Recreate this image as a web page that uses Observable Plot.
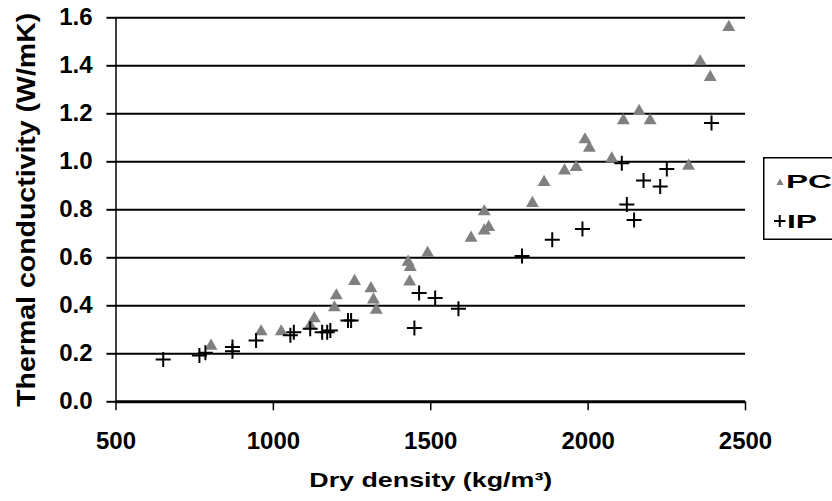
<!DOCTYPE html>
<html>
<head>
<meta charset="utf-8">
<script src="https://cdn.jsdelivr.net/npm/d3@7"></script>
<script src="https://cdn.jsdelivr.net/npm/@observablehq/plot@0.6"></script>
<style>
  body { margin: 0; background: #fff; }
  #wrap { position: relative; width: 832px; height: 501px; overflow: hidden; background: #fff; }
  #legend { position: absolute; left: 763px; top: 157px; overflow: visible; }
  g[aria-label="x-axis tick label"] text,
  g[aria-label="y-axis tick label"] text {
    font-family: "Liberation Sans", Arial, sans-serif; font-weight: bold; font-size: 24px; fill: #000;
    font-variant: normal;
  }
  g[aria-label="x-axis label"] text { font-family: "Liberation Sans", Arial, sans-serif; font-weight: bold; font-size: 21px; fill: #000; }
  g[aria-label="y-axis label"] text { font-family: "Liberation Sans", Arial, sans-serif; font-weight: bold; font-size: 25px; fill: #000; }
</style>
</head>
<body>
<div id="wrap"></div>
<script>
// ---- data ----
const seriesNames = ["PC", "IP"];
const xTitle = "Dry density (kg/m³)";
const yTitle = "Thermal conductivity (W/mK)";
const xTicks = [500, 1000, 1500, 2000, 2500];
const yTicks = [0.0, 0.2, 0.4, 0.6, 0.8, 1.0, 1.2, 1.4, 1.6];

const pcDensity = [802, 961, 1025, 1117, 1130, 1194, 1200, 1258, 1310, 1318, 1327, 1428, 1435, 1433, 1490, 1628, 1670, 1684, 1670, 1823, 1860, 1925, 1962, 1990, 2004, 2075, 2112, 2162, 2197, 2319, 2356, 2388, 2447];
const pcConductivity = [0.24, 0.30, 0.30, 0.325, 0.355, 0.40, 0.45, 0.51, 0.48, 0.433, 0.39, 0.59, 0.568, 0.508, 0.627, 0.69, 0.72, 0.735, 0.80, 0.835, 0.922, 0.97, 0.985, 1.10, 1.065, 1.02, 1.18, 1.218, 1.18, 0.99, 1.425, 1.36, 1.568];

const ipDensity = [650, 765, 784, 870, 870, 945, 1054, 1065, 1117, 1155, 1171, 1181, 1237, 1247, 1448, 1463, 1514, 1588, 1790, 1886, 1982, 2107, 2123, 2146, 2176, 2229, 2250, 2392];
const ipConductivity = [0.176, 0.193, 0.204, 0.228, 0.211, 0.255, 0.277, 0.29, 0.304, 0.29, 0.29, 0.297, 0.339, 0.339, 0.308, 0.453, 0.433, 0.388, 0.607, 0.675, 0.72, 0.994, 0.822, 0.758, 0.922, 0.897, 0.97, 1.162];

const pcData = pcDensity.map((x, i) => ({x, y: pcConductivity[i], series: seriesNames[0]}));
const ipData = ipDensity.map((x, i) => ({x, y: ipConductivity[i], series: seriesNames[1]}));

// thin "+" marker (Excel-style)
const plusLine = {
  draw(ctx, size) {
    const r = Math.sqrt(size / Math.PI);
    ctx.moveTo(-r, 0); ctx.lineTo(r, 0);
    ctx.moveTo(0, -r); ctx.lineTo(0, r);
  }
};

const chart = Plot.plot({
  width: 832,
  height: 501,
  marginLeft: 115.5,
  marginRight: 87,
  marginTop: 17.3,
  marginBottom: 99.7,
  style: {background: "#fff"},
  x: {domain: [500, 2500]},
  y: {domain: [0, 1.6]},
  marks: [
    Plot.ruleY(yTicks.filter(d => d > 0), {stroke: "#000", strokeWidth: 2}),
    Plot.axisX({
      ticks: xTicks, tickSize: 9, tickPadding: 21, stroke: "#000", strokeWidth: 1.5,
      tickFormat: d3.format("d"),
      label: xTitle, labelAnchor: "center", labelOffset: 85.5, labelArrow: "none"
    }),
    Plot.axisY({
      ticks: yTicks, tickSize: 9, tickPadding: 14.5, stroke: "#000", strokeWidth: 2,
      tickFormat: d3.format(".1f"),
      label: yTitle, labelAnchor: "center", labelOffset: 99, labelArrow: "none"
    }),
    Plot.ruleX([500], {stroke: "#000", strokeWidth: 1.5}),
    Plot.ruleY([0], {stroke: "#000", strokeWidth: 3}),
    Plot.dot(pcData, {x: "x", y: "y", symbol: "triangle", r: 4.8, fill: "#808080", stroke: "none", dy: 1.8}),
    Plot.dot(ipData, {x: "x", y: "y", symbol: plusLine, r: 7.5, fill: "none", stroke: "#000", strokeWidth: 2})
  ]
});

const wrap = document.getElementById("wrap");
wrap.appendChild(chart);

// stretch the axis titles horizontally like the reference's wide lettering
const xl = chart.querySelector('g[aria-label="x-axis label"] text');
if (xl) { xl.setAttribute("textLength", 243); xl.setAttribute("lengthAdjust", "spacingAndGlyphs"); }
const yl = chart.querySelector('g[aria-label="y-axis label"] text');
if (yl) { yl.setAttribute("textLength", 394); yl.setAttribute("lengthAdjust", "spacingAndGlyphs"); }

// legend (right side, boxed)
const ns = "http://www.w3.org/2000/svg";
const lg = document.createElementNS(ns, "svg");
lg.setAttribute("id", "legend");
lg.setAttribute("width", "80");
lg.setAttribute("height", "84");
function el(tag, attrs, text) {
  const e = document.createElementNS(ns, tag);
  for (const k in attrs) e.setAttribute(k, attrs[k]);
  if (text != null) e.textContent = text;
  lg.appendChild(e);
  return e;
}
el("rect", {x: 0.75, y: 0.75, width: 120, height: 81.5, fill: "#fff", stroke: "#000", "stroke-width": 1.5});
el("path", {d: "M17,21.5 L20.6,28 L13.4,28 Z", fill: "#808080"});
el("path", {d: "M11,64 H22.5 M16.75,58 V70", stroke: "#000", "stroke-width": 2, fill: "none"});
const textStyle = {"font-family": "Liberation Sans, Arial, sans-serif", "font-weight": "bold", "font-size": 19, fill: "#000", lengthAdjust: "spacingAndGlyphs"};
el("text", Object.assign({x: 23, y: 30.5, textLength: 46}, textStyle), seriesNames[0]);
el("text", Object.assign({x: 24, y: 70.5, textLength: 30}, textStyle), seriesNames[1]);
wrap.appendChild(lg);
</script>
</body>
</html>
